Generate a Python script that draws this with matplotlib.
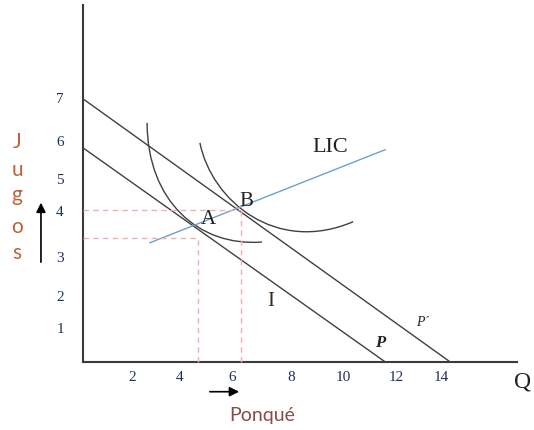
import matplotlib
matplotlib.use('Agg')
import matplotlib.pyplot as plt
from matplotlib.path import Path
from matplotlib.patches import PathPatch

# ---- Diagram data (units of Q and Jugos) ----
x_tick_pos = [1.9, 3.77, 5.79, 8.08, 10.1, 12.16, 13.9]
x_tick_lab = ['2', '4', '6', '8', '10', '12', '14']
y_tick_pos = [6.84, 5.74, 4.73, 3.89, 2.69, 1.67, 0.84]
y_tick_lab = ['7', '6', '5', '4', '3', '2', '1']

# budget lines: (y intercept, x intercept)
budget_P = (5.59, 11.73)
budget_P2 = (6.87, 14.25)

# income consumption line
lic_x = [2.60, 11.73]
lic_y = [3.11, 5.54]

# indifference curves (bezier control points)
curve_1 = [(2.49, 6.24), (2.5, 4.2), (4.5, 3.0), (6.95, 3.13)]
curve_2 = [(4.54, 5.72), (5.0, 4.2), (7.5, 2.8), (10.49, 3.66)]

# equilibrium points A, B (x, y)
point_A = (4.47, 3.24)
point_B = (6.14, 3.97)

# ---- Figure ----
fig = plt.figure(figsize=(5.34, 4.30), dpi=100)
ax = fig.add_axes([0, 0, 1, 1])
ax.set_xlim(-3.22, 17.51)
ax.set_ylim(-1.78, 9.45)
ax.axis('off')

serif = 'Liberation Serif'
num_col = '#1f2f5a'
line_col = '#404040'

# axes
ax.plot([0, 0], [0, 9.32], color='#3a3a3a', lw=1.5)
ax.plot([0, 16.85], [0, 0], color='#3a3a3a', lw=1.5)

# budget lines
for yi, xi in [budget_P, budget_P2]:
    ax.plot([0, xi], [yi, 0], color=line_col, lw=1.0)

# LIC
ax.plot(lic_x, lic_y, color='#6f9fd0', lw=1.0)

# indifference curves
for pts in [curve_1, curve_2]:
    path = Path(pts, [Path.MOVETO, Path.CURVE4, Path.CURVE4, Path.CURVE4])
    ax.add_patch(PathPatch(path, facecolor='none', edgecolor=line_col, lw=1.0))

# dashed guides
for px, py in [point_A, point_B]:
    ax.plot([0, px], [py, py], color='#f4b0b0', lw=1.0, ls=(0, (4, 3)))
    ax.plot([px, px], [0, py], color='#f4b0b0', lw=1.0, ls=(0, (4, 3)))

# tick labels
for p, t in zip(x_tick_pos, x_tick_lab):
    ax.text(p, -0.42, t, ha='center', va='center', fontsize=11, family=serif, color=num_col)
for p, t in zip(y_tick_pos, y_tick_lab):
    ax.text(-0.89, p, t, ha='center', va='center', fontsize=11, family=serif, color=num_col)

# labels
ax.text(9.59, 5.61, 'LIC', ha='center', va='center', fontsize=16, family=serif, color='#222222')
ax.text(4.85, 3.73, 'A', ha='center', va='center', fontsize=15, family=serif, color='#222222')
ax.text(6.33, 4.20, 'B', ha='center', va='center', fontsize=15, family=serif, color='#222222')
ax.text(7.30, 1.57, 'I', ha='center', va='center', fontsize=15, family=serif, color='#3a2a20')
ax.text(11.53, 0.50, 'P', ha='center', va='center', fontsize=12, family=serif,
        style='italic', weight='bold', color='#222222')
ax.text(13.17, 1.04, 'P´', ha='center', va='center', fontsize=10, family=serif,
        style='italic', color='#222222')
ax.text(17.05, -0.52, 'Q', ha='center', va='center', fontsize=17, family=serif, color='#222222')
ax.text(6.95, -1.41, 'Ponqué', ha='center', va='center', fontsize=14, family='Lato', color='#8a4a48')

for letter, yy in zip('Jugos', [5.74, 5.01, 4.36, 3.52, 2.85]):
    ax.text(-2.56, yy, letter, ha='center', va='center', fontsize=15, family='Lato', color='#c0603a')

# arrows
ax.annotate('', xy=(-1.63, 4.23), xytext=(-1.63, 2.53),
            arrowprops=dict(arrowstyle='-|>', color='black', lw=1.2, mutation_scale=14))
ax.annotate('', xy=(6.17, -0.78), xytext=(4.82, -0.78),
            arrowprops=dict(arrowstyle='-|>', color='black', lw=1.2, mutation_scale=14))

fig.savefig('out.png', dpi=100)
